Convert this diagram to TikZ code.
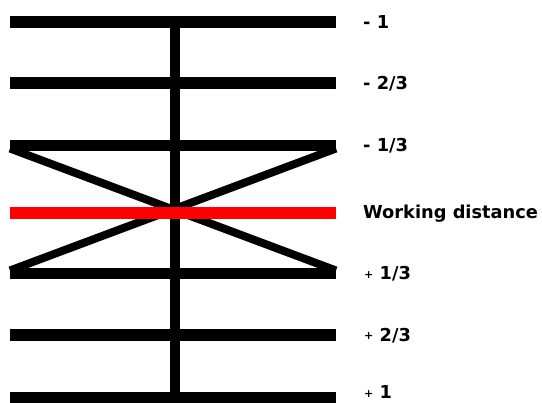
\documentclass[tikz,border=0pt]{standalone}
\usepackage{fontspec}
\setmainfont{DejaVu Sans}
\newcommand{\smallplus}{{\fontsize{11}{11}\selectfont\raisebox{1.5pt}{+}}}
\begin{document}
\begin{tikzpicture}[x=1pt,y=-1pt,
  bar/.style={line width=11.5pt},
  stem/.style={line width=10pt},
  diag/.style={line width=8pt},
  lbl/.style={anchor=base west, inner sep=0pt, font=\fontsize{17.8}{20}\selectfont\bfseries}]
\useasboundingbox (0,0) rectangle (542,403);
\foreach \n/\y in {1/22,2/83,3/145.5,4/213,5/273.5,6/335,7/398}{
  \coordinate (L\n) at (10,\y);
  \coordinate (R\n) at (336,\y);
}
\coordinate (T) at (175,16.5);
\coordinate (B) at (175,398);
\draw[stem] (T) -- (B);
\foreach \n in {1,2,3,5,6,7}{
  \draw[bar] (L\n) -- (R\n);
}
\draw[diag] ([yshift=-3pt]L3) -- ([yshift=3pt]R5);
\draw[diag] ([yshift=-3pt]R3) -- ([yshift=3pt]L5);
\draw[bar, red] (L4) -- (R4);
\node[lbl] (t1) at (363,28.5) {- 1};
\node[lbl] (t2) at (363,89.5) {- 2/3};
\node[lbl] (t3) at (363,152) {- 1/3};
\node[lbl] (t4) at (363,219) {Working distance};
\node[lbl] (t5) at (364,280) {\smallplus\ 1/3};
\node[lbl] (t6) at (364,341.5) {\smallplus\ 2/3};
\node[lbl] (t7) at (364,399) {\smallplus\ 1};
\end{tikzpicture}
\end{document}
